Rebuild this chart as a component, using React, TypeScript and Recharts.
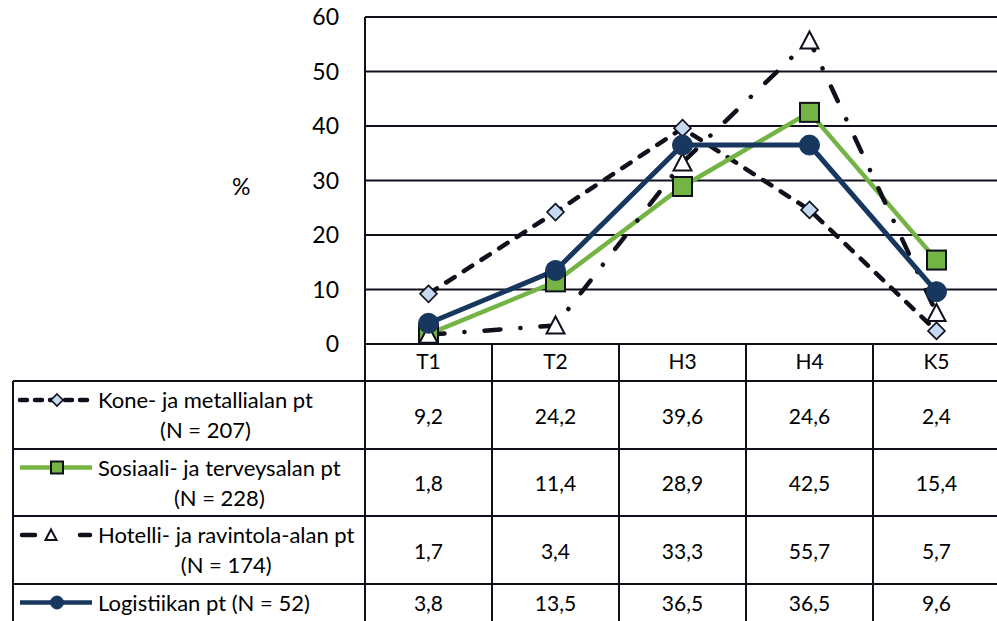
import React from 'react';
import { LineChart, Line, XAxis, YAxis, CartesianGrid } from 'recharts';

const categories = ['T1', 'T2', 'H3', 'H4', 'K5'];
const kone = [9.2, 24.2, 39.6, 24.6, 2.4];
const sosiaali = [1.8, 11.4, 28.9, 42.5, 15.4];
const hotelli = [1.7, 3.4, 33.3, 55.7, 5.7];
const logistiikka = [3.8, 13.5, 36.5, 36.5, 9.6];
const seriesLabels = [
  ['Kone- ja metallialan pt', '(N = 207)'],
  ['Sosiaali- ja terveysalan pt', '(N = 228)'],
  ['Hotelli- ja ravintola-alan pt', '(N = 174)'],
  ['Logistiikan pt (N = 52)'],
];
const yTicks = [0, 10, 20, 30, 40, 50, 60];

const data = categories.map((c, i) => ({
  cat: c,
  kone: kone[i],
  sosiaali: sosiaali[i],
  hotelli: hotelli[i],
  logistiikka: logistiikka[i],
}));
const seriesValues = [kone, sosiaali, hotelli, logistiikka];

const FONT = 'Lato, "Open Sans", sans-serif';
const GREEN = '#74B444';
const NAVY = '#17375E';
const LIGHTBLUE = '#C5D9F1';
const INK = '#10101c';

const CHART_W = 1000;
const CHART_H = 621;
const PLOT_LEFT = 365;
const PLOT_TOP = 17;
const PLOT_BOTTOM = 344;
const X_AXIS_H = 40;
const Y_AXIS_W = 60;
const COL_W = (CHART_W - PLOT_LEFT) / categories.length;
const TABLE_LEFT = 13;
const ROW_LINES = [381, 449, 516, 584, 621];

const KONE_DASH = '10 11';
const HOTELLI_DASH = '16 20 0.1 20';

const diamond = (cx: number, cy: number, h: number, key?: any) => (
  <path key={key} d={`M${cx},${cy - h} L${cx + h},${cy} L${cx},${cy + h} L${cx - h},${cy} Z`} fill={LIGHTBLUE} stroke={INK} strokeWidth={1.6} />
);
const square = (cx: number, cy: number, h: number, key?: any) => (
  <rect key={key} x={cx - h} y={cy - h} width={2 * h} height={2 * h} fill={GREEN} stroke={INK} strokeWidth={2} />
);
const triangle = (cx: number, cy: number, h: number, key?: any) => (
  <path key={key} d={`M${cx},${cy - h} L${cx + h},${cy + h * 0.9} L${cx - h},${cy + h * 0.9} Z`} fill="#fff" stroke={INK} strokeWidth={2} />
);
const circle = (cx: number, cy: number, r: number, key?: any) => (
  <circle key={key} cx={cx} cy={cy} r={r} fill={NAVY} stroke={NAVY} strokeWidth={1} />
);

const mk = (fn: any, size: number) => (props: any) => {
  const { cx, cy, index } = props;
  if (cx == null || cy == null) return <g key={`e${index}`} />;
  return fn(cx, cy, size, `m${index}`);
};

const fmt = (v: number) => v.toFixed(1).replace('.', ',');

const LegendIcon = ({ i, y }: { i: number; y: number }) => {
  const x1 = 20, x2 = 92, cx = 57;
  if (i === 0)
    return (
      <g>
        <line x1={x1} y1={y} x2={x2} y2={y} stroke={INK} strokeWidth={4.5} strokeDasharray="7 8" strokeLinecap="round" />
        {diamond(cx, y, 6)}
      </g>
    );
  if (i === 1)
    return (
      <g>
        <line x1={x1} y1={y} x2={x2} y2={y} stroke={GREEN} strokeWidth={4.5} />
        {square(cx, y, 6)}
      </g>
    );
  if (i === 2)
    return (
      <g>
        <line x1={22} y1={y} x2={35} y2={y} stroke={INK} strokeWidth={4.5} strokeLinecap="round" />
        <line x1={80} y1={y} x2={90} y2={y} stroke={INK} strokeWidth={4.5} strokeLinecap="round" />
        {triangle(51, y, 5.5)}
      </g>
    );
  return (
    <g>
      <line x1={x1} y1={y} x2={x2} y2={y} stroke={NAVY} strokeWidth={4.5} />
      {circle(cx, y, 6.5)}
    </g>
  );
};

export default function App() {
  const colEdges = categories.map((_, i) => PLOT_LEFT + i * COL_W);
  return (
    <div style={{ position: 'absolute', left: 0, top: 0, width: 997, height: 621, overflow: 'hidden', background: '#fff', fontFamily: FONT }}>
      <LineChart
        width={CHART_W}
        height={CHART_H}
        data={data}
        margin={{ top: PLOT_TOP, right: 0, left: PLOT_LEFT - Y_AXIS_W, bottom: CHART_H - PLOT_BOTTOM - X_AXIS_H }}
        style={{ fontFamily: FONT }}
      >
        <CartesianGrid vertical={false} stroke={INK} strokeWidth={2} strokeOpacity={1} />
        <XAxis
          dataKey="cat"
          height={X_AXIS_H}
          padding={{ left: COL_W / 2, right: COL_W / 2 }}
          axisLine={false}
          tickLine={false}
          tickSize={0}
          tickMargin={10}
          interval={0}
          tick={{ fill: '#000', fontSize: 21, fontFamily: FONT }}
        />
        <YAxis
          width={Y_AXIS_W}
          domain={[0, 60]}
          ticks={yTicks}
          interval={0}
          axisLine={{ stroke: INK, strokeWidth: 2 }}
          tickLine={false}
          tickSize={0}
          tickMargin={26}
          tick={{ fill: '#000', fontSize: 23, fontFamily: FONT }}
        />
        <Line dataKey="kone" stroke={INK} strokeWidth={4.5} strokeDasharray={KONE_DASH} strokeLinecap="round" dot={mk(diamond, 8.5)} activeDot={false} isAnimationActive={false} />
        <Line dataKey="sosiaali" stroke={GREEN} strokeWidth={4.5} dot={mk(square, 9.5)} activeDot={false} isAnimationActive={false} />
        <Line dataKey="hotelli" stroke={INK} strokeWidth={4.5} strokeDasharray={HOTELLI_DASH} strokeLinecap="round" dot={mk(triangle, 9)} activeDot={false} isAnimationActive={false} />
        <Line dataKey="logistiikka" stroke={NAVY} strokeWidth={5} dot={mk(circle, 10)} activeDot={false} isAnimationActive={false} />
      </LineChart>

      <div style={{ position: 'absolute', left: 232, top: 172, fontSize: 23, color: '#000' }}>%</div>

      <svg width={997} height={621} style={{ position: 'absolute', left: 0, top: 0, pointerEvents: 'none' }}>
        <line x1={PLOT_LEFT} y1={PLOT_TOP} x2={PLOT_LEFT} y2={621} stroke={INK} strokeWidth={2} />
        <line x1={TABLE_LEFT} y1={ROW_LINES[0]} x2={TABLE_LEFT} y2={621} stroke={INK} strokeWidth={2} />
        {colEdges.slice(1).map((x, i) => (
          <line key={`v${i}`} x1={x} y1={PLOT_BOTTOM} x2={x} y2={621} stroke={INK} strokeWidth={2} />
        ))}
        {ROW_LINES.slice(0, 4).map((y, i) => (
          <line key={`h${i}`} x1={TABLE_LEFT} y1={y} x2={997} y2={y} stroke={INK} strokeWidth={2} />
        ))}
        {seriesValues.map((vals, r) => {
          const cy = (ROW_LINES[r] + ROW_LINES[r + 1]) / 2;
          const lines = seriesLabels[r].length;
          const firstY = cy - (lines - 1) * 15;
          return (
            <g key={`r${r}`}>
              <LegendIcon i={r} y={firstY} />
              {vals.map((v, c) => (
                <text key={c} x={colEdges[c] + COL_W / 2} y={cy} textAnchor="middle" dominantBaseline="central" fontSize={21} fontFamily={FONT} fill="#000">
                  {fmt(v)}
                </text>
              ))}
            </g>
          );
        })}
      </svg>

      {seriesLabels.map((lines, r) => {
        const cy = (ROW_LINES[r] + ROW_LINES[r + 1]) / 2;
        return (
          <div
            key={`l${r}`}
            style={{
              position: 'absolute',
              left: 98,
              top: cy - lines.length * 15,
              display: 'inline-block',
              textAlign: 'center',
              fontSize: 22,
              lineHeight: '30px',
              color: '#000',
              whiteSpace: 'nowrap',
            }}
          >
            {lines.map((t, k) => (
              <div key={k}>{t}</div>
            ))}
          </div>
        );
      })}
    </div>
  );
}
